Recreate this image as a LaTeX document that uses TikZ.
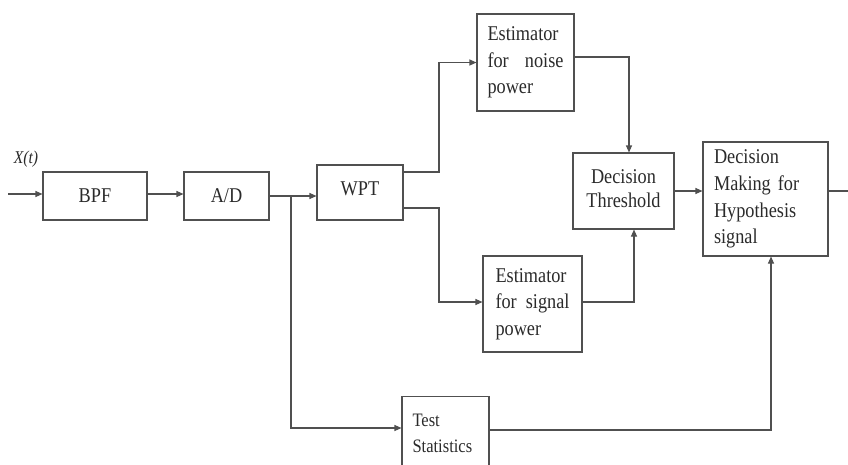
\documentclass[tikz,border=0pt]{standalone}
\usepackage{fontspec}
\setmainfont{Liberation Serif}[FakeStretch=0.87]
\usetikzlibrary{arrows.meta}
\definecolor{ink}{HTML}{505050}
\definecolor{txt}{HTML}{2A2A2A}
\begin{document}
\begin{tikzpicture}[x=1pt,y=-1pt,
  blk/.style={draw=ink,line width=1.1pt,inner sep=0pt,text=txt,
    font=\fontsize{21}{26.5}\selectfont},
  wire/.style={draw=ink,line width=1.1pt},
  arr/.style={wire,-{Triangle[length=7pt,width=6pt]}}]
\useasboundingbox (0,0) rectangle (848,464);
\clip (0,0) rectangle (848,464);

% blocks (centre, size)
\node[blk,minimum width=104pt,minimum height=48pt] (bpf) at (95,196) {BPF};
\node[blk,minimum width=85pt,minimum height=48pt] (ad) at (226.5,196) {A/D};
\node[blk,minimum width=86pt,minimum height=55pt] (wpt) at (360,192.5) {\raisebox{7pt}{WPT}};
\node[blk,minimum width=97pt,minimum height=97pt,text width=76pt,align=left] (noise) at (525.5,62.5)
  {Estimator\\\makebox[76pt][s]{for\hfill noise}\\power};
\node[blk,minimum width=101pt,minimum height=76pt] (thr) at (623.5,191)
  {\raisebox{3pt}{\fontsize{21}{24}\selectfont\begin{tabular}{@{}c@{}}Decision\\Threshold\end{tabular}}};
\node[blk,minimum width=99pt,minimum height=96pt,text width=74pt,align=left] (sig) at (532.5,304)
  {Estimator\\\makebox[74pt][s]{for\hfill signal}\\power};
\node[blk,minimum width=125pt,minimum height=114pt,text width=103pt,align=left] (dec) at (765.5,199)
  {\fontsize{21}{26.7}\selectfont Decision\\Making for\\Hypothesis\\signal};
\node[blk,minimum width=87pt,minimum height=74pt,text width=66pt,align=left,anchor=north] (test) at (445.5,396)
  {\fontsize{19}{28}\selectfont Test\\Statistics};

% input label and free ends
\node[text=txt,font=\fontsize{18}{20}\selectfont\itshape] (xt) at (26,159) {X(t)};
\coordinate (in) at (8,194);
\coordinate (out) at (848,191);
\coordinate (split) at (291,196);

% signal path
\draw[arr] (in) -- (bpf.west |- in);
\draw[arr] (bpf.east |- in) -- (ad.west |- in);
\draw[arr] (ad.east |- split) -- (wpt.west |- split);
\draw[arr] (split) |- (test.west |- 0,428);
\draw[arr] (wpt.east |- 0,172) -- (439,172) |- (noise.west);
\draw[arr] (wpt.east |- 0,208) -- (439,208) |- (sig.west |- 0,302);
\draw[arr] (noise.east |- 0,57) -| (thr.north -| 629,0);
\draw[arr] (sig.east |- 0,302) -| (thr.south -| 634,0);
\draw[arr] (thr.east) -- (dec.west |- thr.east);
\draw[wire] (dec.east |- out) -- (out);
\draw[arr] (test.east |- 0,430) -| (dec.south -| 771,0);
\end{tikzpicture}
\end{document}
